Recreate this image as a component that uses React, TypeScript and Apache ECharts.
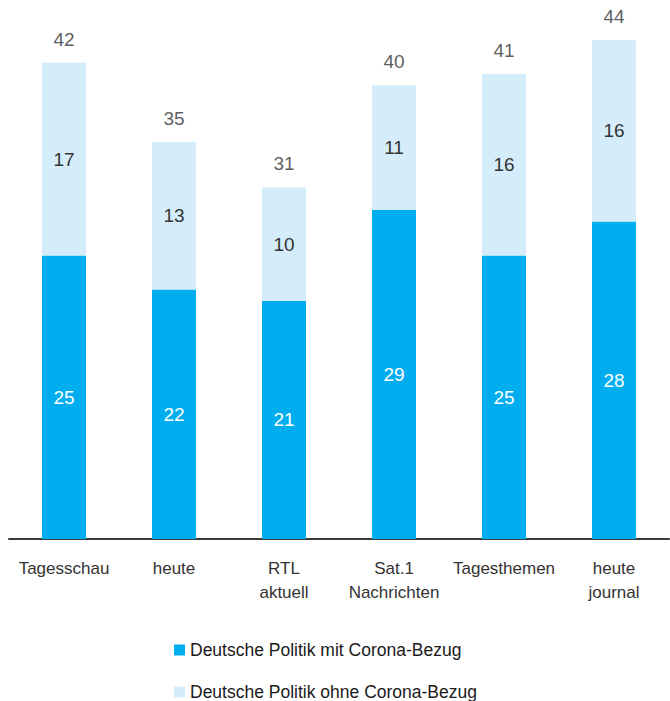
import React, { useEffect, useRef } from "react";
import * as echarts from "echarts";

const categories = ["Tagesschau", "heute", "RTL\naktuell", "Sat.1\nNachrichten", "Tagesthemen", "heute\njournal"];
const withCorona = [25, 22, 21, 29, 25, 28];
const withoutCorona = [17, 13, 10, 11, 16, 16];
const totals = [42, 35, 31, 40, 41, 44];
const seriesNames = ["Deutsche Politik mit Corona-Bezug", "Deutsche Politik ohne Corona-Bezug"];

const FONT = "'Liberation Sans', Arial, sans-serif";

export default function App() {
  const ref = useRef<HTMLDivElement>(null);
  useEffect(() => {
    if (!ref.current) return;
    const chart = echarts.init(ref.current, undefined, { renderer: "svg" });
    chart.setOption({
      animation: false,
      textStyle: { fontFamily: FONT },
      grid: { left: 9, right: 1, top: 40, bottom: 162, containLabel: false },
      legend: {
        orient: "vertical",
        left: 174,
        top: 639,
        width: 400,
        height: 80,
        padding: 0,
        itemWidth: 11,
        itemHeight: 11,
        itemGap: 20,
        icon: "rect",
        textStyle: { fontFamily: FONT, fontSize: 17.5, color: "#1a1a1a", lineHeight: 22 },
        data: seriesNames,
      },
      xAxis: {
        type: "category",
        data: categories,
        axisLine: { show: true, lineStyle: { color: "#3a3a3a", width: 2 } },
        axisTick: { show: false },
        axisLabel: {
          interval: 0,
          margin: 17,
          fontFamily: FONT,
          fontSize: 17,
          lineHeight: 24,
          color: "#333333",
        },
      },
      yAxis: {
        type: "value",
        min: 0,
        max: 44,
        show: false,
        splitLine: { show: false },
      },
      series: [
        {
          name: seriesNames[0],
          type: "bar",
          stack: "a",
          barWidth: 44,
          data: withCorona,
          itemStyle: { color: "#00adee" },
          label: { show: true, position: "inside", color: "#ffffff", fontFamily: FONT, fontSize: 19 },
        },
        {
          name: seriesNames[1],
          type: "bar",
          stack: "a",
          barWidth: 44,
          data: withoutCorona,
          itemStyle: { color: "#d5edfa" },
          label: { show: true, position: "inside", color: "#333333", fontFamily: FONT, fontSize: 19 },
        },
        {
          name: "total",
          type: "scatter",
          data: totals,
          symbolSize: 0,
          silent: true,
          label: {
            show: true,
            position: "top",
            distance: 14,
            color: "#333333",
            fontFamily: FONT,
            fontSize: 19,
          },
        },
      ],
    });
    return () => chart.dispose();
  }, []);
  return <div ref={ref} style={{ position: "absolute", left: 0, top: 0, width: 670, height: 701 }} />;
}
